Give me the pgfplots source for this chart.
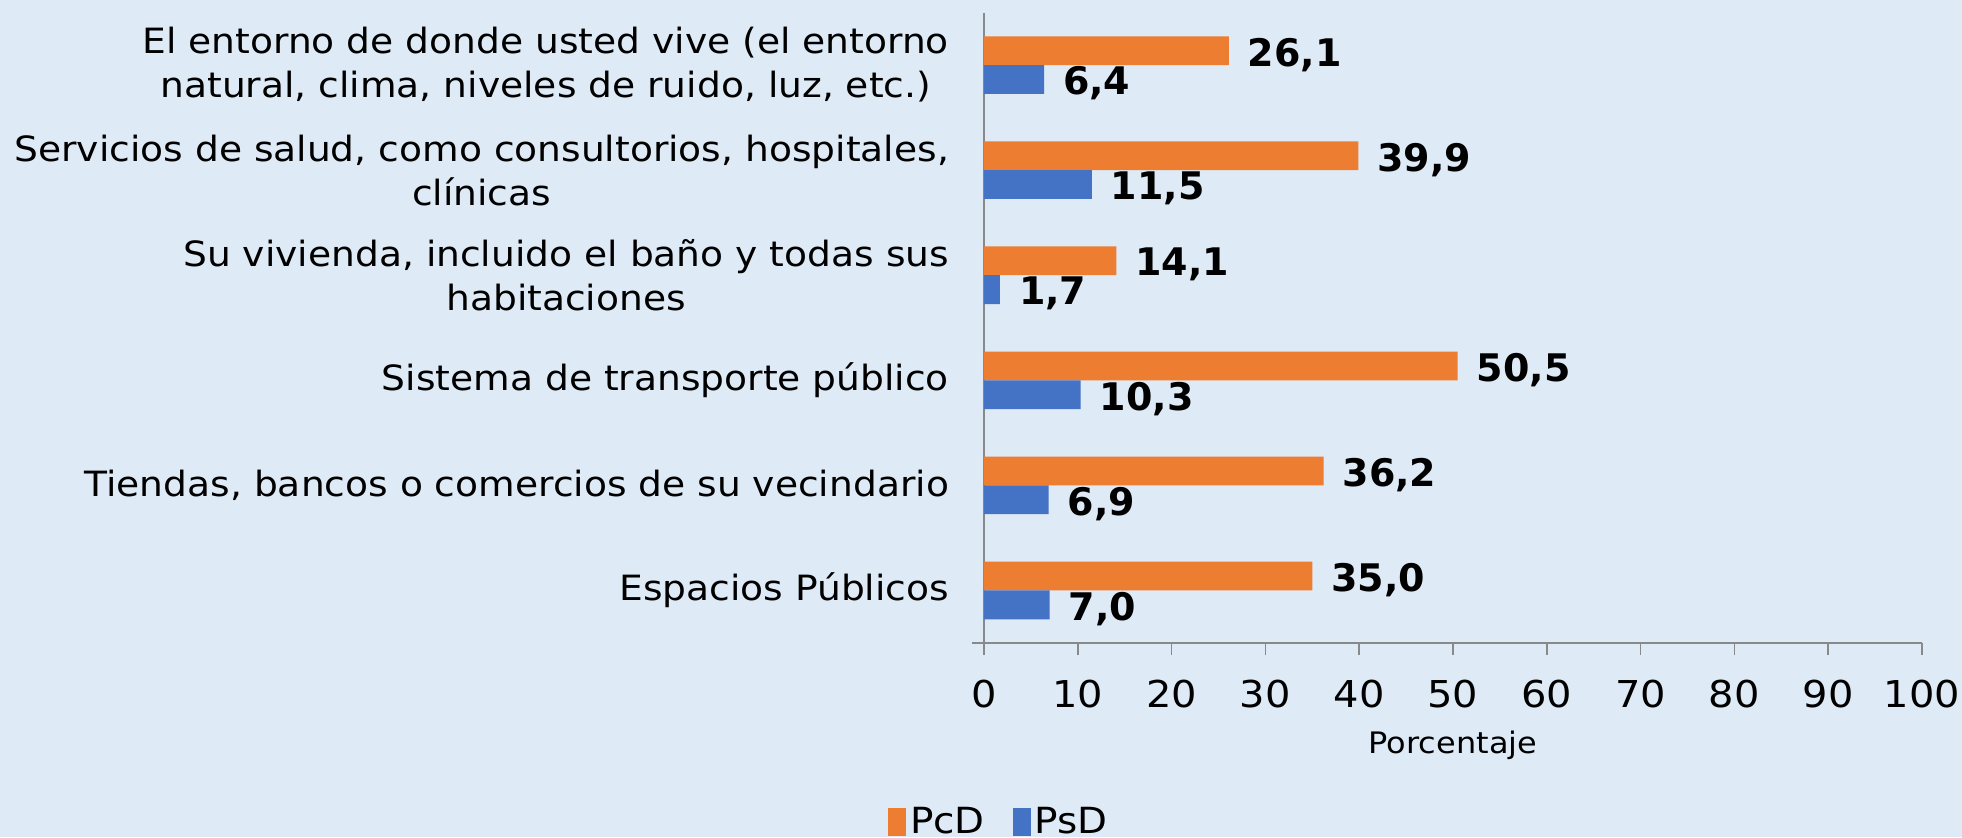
\documentclass[border=0pt]{standalone}
\usepackage{pgfplots}
\pgfplotsset{compat=1.18}
\usepackage{fontspec}
\setmainfont{DejaVu Sans}
\newfontfamily\wide[FakeStretch=1.08]{DejaVu Sans}
\definecolor{bg}{HTML}{DEEAF6}
\definecolor{pcd}{HTML}{ED7D31}
\definecolor{psd}{HTML}{4472C4}
\definecolor{axgray}{HTML}{898989}

\begin{document}
\begin{tikzpicture}
\fill[bg] (-492pt,-97pt) rectangle (489pt,321.5pt);
\useasboundingbox (-492pt,-97pt) rectangle (489pt,321.5pt);
\begin{axis}[
  at={(0pt,0pt)}, anchor=south west,
  scale only axis, width=469pt, height=315.25pt,
  xbar, bar width=14.4pt,
  xmin=0, xmax=100, ymin=-0.5, ymax=5.5,
  xtick={0,10,...,100},
  ytick={0,...,5},
  yticklabels={
    Espacios Públicos,
    {Tiendas, bancos o comercios de su vecindario},
    Sistema de transporte público,
    {Su vivienda, incluido el baño y todas sus\\habitaciones},
    {Servicios de salud, como consultorios, hospitales,\\clínicas},
    {El entorno de donde usted vive (el entorno\\natural, clima, niveles de ruido, luz, etc.)}},
  extra y ticks={-0.5,0.5,...,5.5},
  extra y tick labels={},
  extra y tick style={major tick length=6pt, tick style={axgray, line width=0.8pt}},
  axis x line*=bottom, axis y line*=left,
  axis line style={axgray, line width=0.8pt, -},
  major tick length=6pt,
  ytick style={draw=none},
  xtick style={axgray, line width=0.8pt},
  tick align=outside,
  x axis line style={shorten <=-6pt},
  /pgf/number format/assume math mode=true,
  xticklabel style={font=\wide\fontsize{18.5}{23}\selectfont, yshift=-9pt},
  yticklabel style={font=\wide\fontsize{17.4}{22}\selectfont, align=center, xshift=-8pt},
  xlabel={Porcentaje},
  xlabel style={font=\wide\fontsize{14.8}{17}\selectfont, yshift=-4.5pt},
  nodes near coords,
  nodes near coords style={font=\fontsize{19}{22}\selectfont\bfseries, anchor=west, xshift=6pt, yshift=-2pt,
    /pgf/number format/.cd, fixed, fixed zerofill, precision=1, use comma, assume math mode=true},
  legend style={at={(0,0)}, anchor=center, xshift=8pt, yshift=-89.5pt,
    draw=none, fill=none, legend columns=2, font=\wide\fontsize{18}{22}\selectfont,
    /tikz/every even column/.append style={column sep=12pt}},
  legend image code/.code={\fill[#1] (0pt,-7pt) rectangle (9pt,7pt);},
]
\addplot[fill=pcd, draw=none, bar shift=7.2pt] coordinates {(35.0,0) (36.2,1) (50.5,2) (14.1,3) (39.9,4) (26.1,5)};
\addlegendentry{PcD}
\addplot[fill=psd, draw=none, bar shift=-7.2pt] coordinates {(7.0,0) (6.9,1) (10.3,2) (1.7,3) (11.5,4) (6.4,5)};
\addlegendentry{PsD}
\end{axis}
\end{tikzpicture}
\end{document}
